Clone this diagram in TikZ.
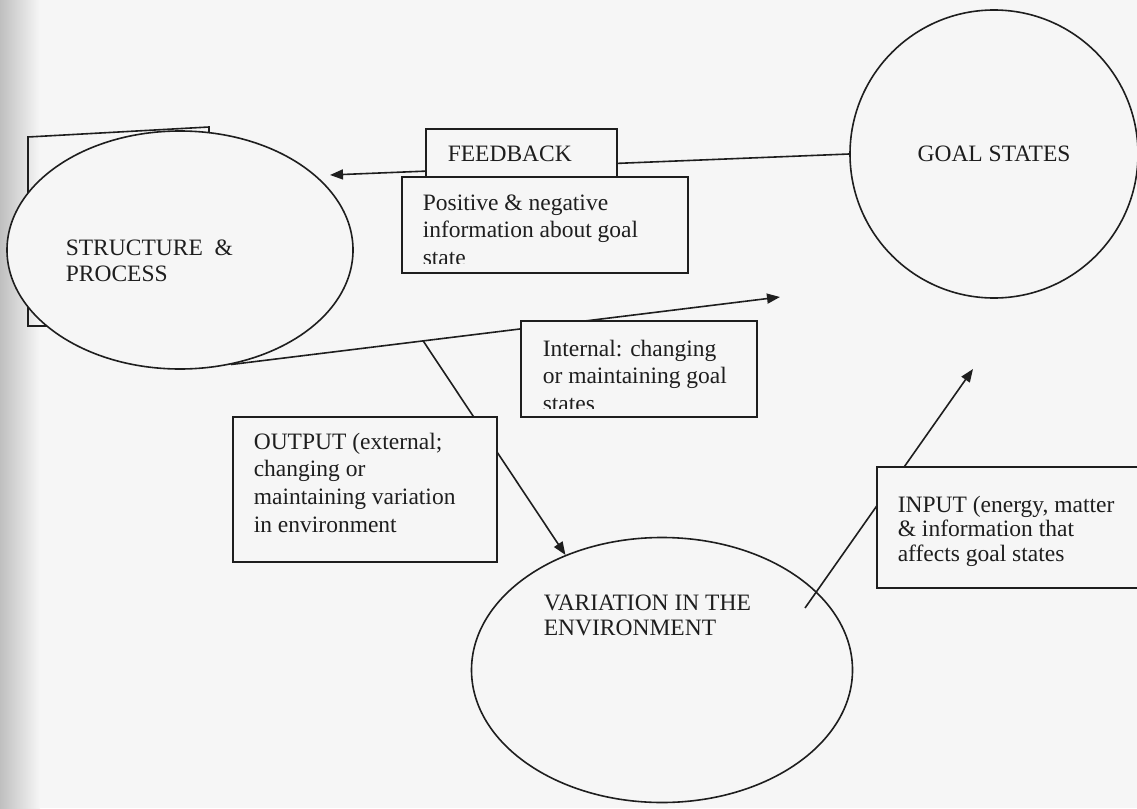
\documentclass[tikz,border=0pt]{standalone}
\usepackage{fontspec}
\setmainfont{Liberation Serif}
\usepackage{tikz}
\usetikzlibrary{arrows.meta}
\usetikzlibrary{shapes.geometric}
\usetikzlibrary{calc}
\definecolor{paper}{RGB}{246,246,246}
\definecolor{ink}{RGB}{30,30,30}

\begin{document}
\begin{tikzpicture}[x=1pt,y=-1pt,color=ink,line width=1.6pt,
  box/.style={draw,fill=paper,rectangle,inner sep=0pt,anchor=north west},
  oval/.style={draw,fill=paper,ellipse,inner sep=0pt},
  txt/.style={inner sep=0pt,anchor=north west,align=left,font=\fontsize{23.5}{#1}\selectfont},
  txt/.default=27.5,
  arr/.style={-{Triangle[length=13pt,width=10pt]}}]
\useasboundingbox (0,0) rectangle (1137,808);
\clip (0,0) rectangle (1137,808);
\fill[paper] (0,0) rectangle (1137,808);
\shade[left color=black!25,right color=paper] (0,0) rectangle (40,808);
% box behind the structure ellipse
\draw (28,326) -- (28,137) -- (209,127) -- (209,326) -- cycle;
\node[oval,minimum width=346pt,minimum height=238pt] (sp) at (180,250) {};
\node[txt=26] (sp-txt) at (65,239) {STRUCTURE\ \ \&\\PROCESS};
\node[draw,fill=paper,circle,minimum size=288pt,inner sep=0pt,font=\fontsize{23.5}{27.5}\selectfont] (goal) at (994,154) {GOAL STATES};
\node[oval,minimum width=381pt,minimum height=265pt] (env) at (662,670) {};
\node[txt=25] (env-txt) at (543,594) {VARIATION IN THE\\ENVIRONMENT};
% connectors
\coordinate (fb-tip) at (330,175);
\coordinate (int-tip) at (780,297);
\coordinate (int-fork) at ($(sp.-66)!0.35!(int-tip)$);
\coordinate (inp-foot) at (805,608);
\coordinate (inp-tip) at (973,369);
\draw[arr] (goal.west) -- (fb-tip);
\draw[arr] (sp.-66) -- (int-tip);
\draw[arr] (int-fork) -- (env.130);
\draw[arr] (inp-foot) -- (inp-tip);
% text boxes
\node[box,minimum width=191pt,minimum height=48pt] (fb) at (425,128) {};
\node[txt] (fb-txt) at (447,145) {FEEDBACK};
\node[box,minimum width=286pt,minimum height=96pt] (info) at (401,176) {};
\begin{scope}
\clip (info.north west) rectangle ([yshift=10pt]info.south east);
\node[txt] (info-txt) at (422,194) {Positive \& negative\\information about goal\\state};
\end{scope}
\node[box,minimum width=236pt,minimum height=96pt] (int) at (520,320) {};
\begin{scope}
\clip (int.north west) rectangle ([yshift=9pt]int.south east);
\node[txt] (int-txt) at (542,339) {Internal: changing\\or maintaining goal\\states};
\end{scope}
\node[box,minimum width=264pt,minimum height=145pt] (out) at (232,416) {};
\node[txt=27.7] (out-txt) at (253,432) {OUTPUT (external;\\changing or\\maintaining variation\\in environment};
\node[box,minimum width=290pt,minimum height=121pt] (inp) at (876,466) {};
\node[txt=24.5] (inp-txt) at (897,495) {INPUT (energy, matter\\\& information that\\affects goal states};
\end{tikzpicture}
\end{document}
